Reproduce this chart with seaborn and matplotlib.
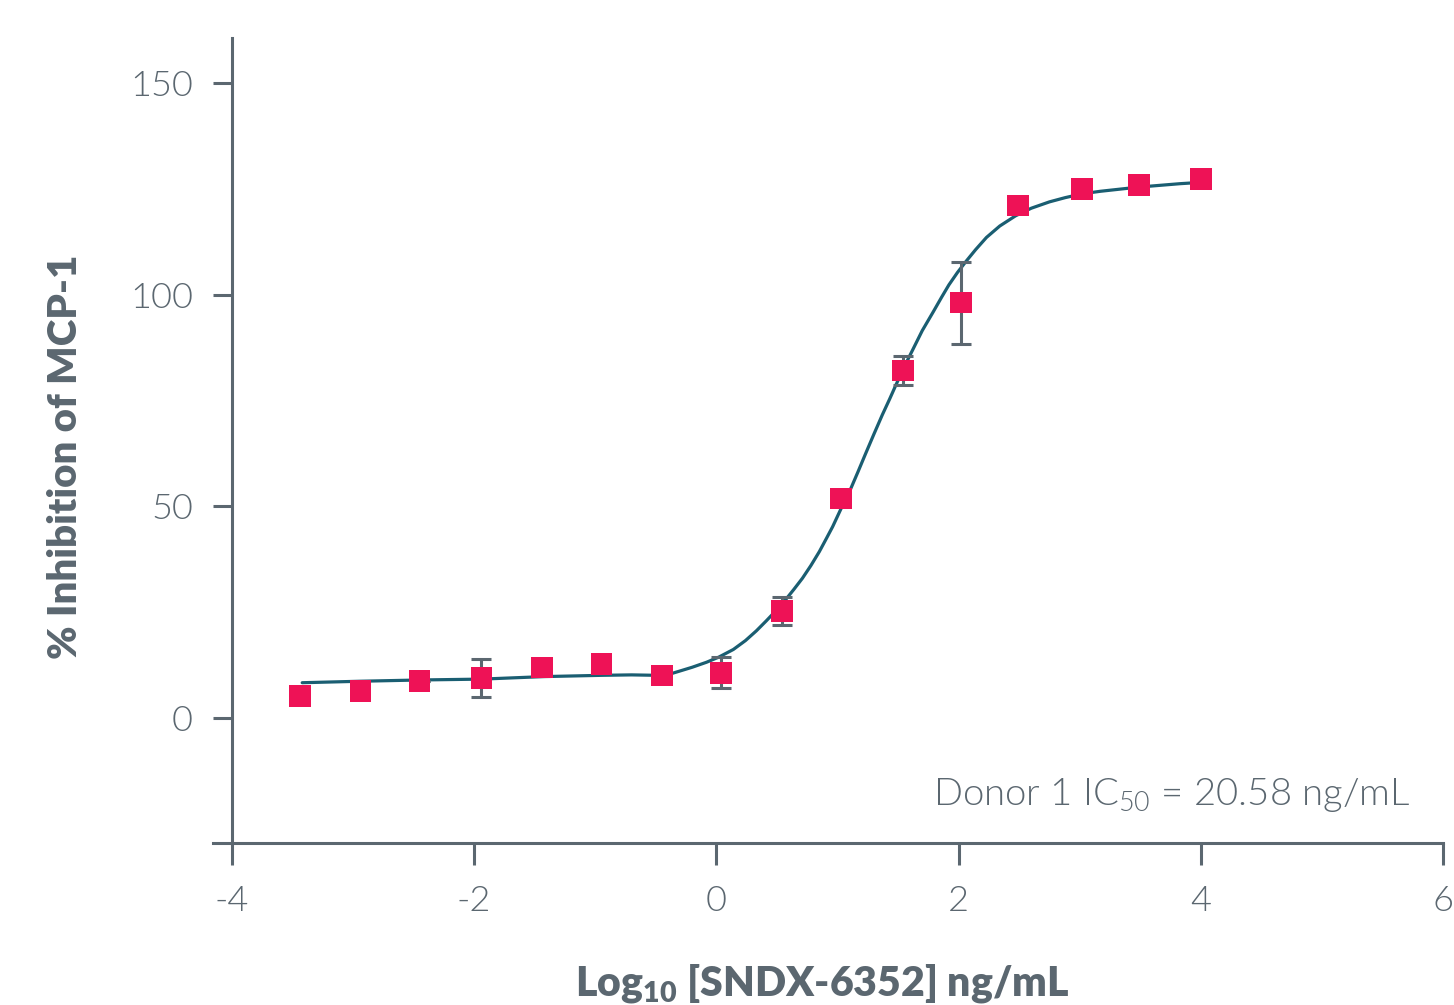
import matplotlib
matplotlib.use("Agg")
import matplotlib.pyplot as plt
import seaborn as sns
import pandas as pd

# ---- data ----
log_conc = [-3.44, -2.94, -2.45, -1.94, -1.44, -0.95, -0.45, 0.04, 0.54, 1.03, 1.54, 2.02, 2.49, 3.02, 3.49, 4.00]
inhibition = [5.2, 6.4, 8.7, 9.5, 11.9, 12.8, 10.0, 10.7, 25.3, 51.8, 82.1, 98.1, 121.1, 124.9, 125.9, 127.3]
err = [0, 0, 0, 4.5, 0, 0, 0, 3.7, 3.4, 0, 3.5, 9.7, 0, 0, 0, 0]

curve_x = [-3.42, -2.94, -2.44, -1.94, -1.42, -0.94, -0.70, -0.50, -0.36, -0.20, -0.08, 0.02, 0.14,
           0.24, 0.33, 0.41, 0.49, 0.57, 0.64, 0.71, 0.78, 0.85, 0.91, 0.96, 1.035, 1.11, 1.17,
           1.23, 1.30, 1.37, 1.43, 1.48, 1.55, 1.62, 1.70, 1.79, 1.86, 1.92, 1.99, 2.06, 2.14,
           2.23, 2.34, 2.47, 2.60, 2.75, 2.88, 3.02, 3.17, 3.33, 3.49, 3.66, 3.83, 4.00]
curve_y = [8.35, 8.7, 9.0, 9.2, 9.8, 10.1, 10.2, 10.1, 10.6, 12.0, 13.2, 14.4, 16.2,
           18.3, 20.6, 22.9, 25.3, 27.9, 30.4, 33.0, 36.0, 39.3, 42.5, 45.2, 49.8, 54.2, 58.2,
           62.3, 67.0, 71.6, 75.3, 78.5, 82.9, 86.9, 91.5, 95.9, 99.4, 102.3, 105.2, 107.8, 110.6,
           113.5, 116.2, 118.6, 120.4, 121.9, 122.9, 123.8, 124.4, 124.9, 125.4, 125.8, 126.2, 126.5]

xticks = [-4, -2, 0, 2, 4, 6]
yticks = [0, 50, 100, 150]
xlabel = "Log$_{\\mathregular{10}}$ [SNDX-6352] ng/mL"
ylabel = "% Inhibition of MCP-1"
note = "Donor 1 IC$_{\\mathregular{50}}$ = 20.58 ng/mL"

# ---- style ----
sns.set_style("white")
plt.rcParams["font.family"] = ["Lato", "DejaVu Sans"]
plt.rcParams["mathtext.fontset"] = "custom"
plt.rcParams["mathtext.rm"] = "Lato"
plt.rcParams["axes.unicode_minus"] = False

GRAY = "#5B6770"
TEAL = "#1A5E72"
PINK = "#EE1256"
LIGHT = 300

W, H = 1454, 1005
fig = plt.figure(figsize=(W / 100, H / 100), dpi=100)
ax = fig.add_axes([212.6 / W, 1 - 843 / H, (1443 - 212.6) / W, (843 - 38) / H])

pts = pd.DataFrame({"x": log_conc, "y": inhibition})
crv = pd.DataFrame({"x": curve_x, "y": curve_y})

sns.lineplot(data=crv, x="x", y="y", sort=False, estimator=None, color=TEAL, lw=2.3, ax=ax, zorder=2)
ax.errorbar(log_conc, inhibition, yerr=err, fmt="none", ecolor=GRAY, elinewidth=2.2,
            capsize=7, capthick=2.2, zorder=3)
sns.scatterplot(data=pts, x="x", y="y", marker="s", s=240, color=PINK, edgecolor="none",
                linewidth=0, ax=ax, zorder=4)

ax.set_xlim(-4.16, 6.0)
ax.set_ylim(-29.5, 160.6)
ax.set_xticks(xticks)
ax.set_yticks(yticks)
ax.set_xticklabels([str(t) for t in xticks])
ax.set_yticklabels([str(t) for t in yticks])

for s in ["top", "right"]:
    ax.spines[s].set_visible(False)
ax.spines["left"].set_position(("data", -4))
for s in ["left", "bottom"]:
    ax.spines[s].set_color(GRAY)
    ax.spines[s].set_linewidth(2.2)

ax.tick_params(axis="x", direction="out", length=16, width=2.2, color=GRAY,
               labelcolor=GRAY, labelsize=26, pad=14, bottom=True)
ax.tick_params(axis="y", direction="out", length=14, width=2.2, color=GRAY,
               labelcolor=GRAY, labelsize=26, pad=14, left=True)
for lab in ax.get_xticklabels() + ax.get_yticklabels():
    lab.set_fontweight(LIGHT)
ax.set_xlabel("")
ax.set_ylabel("")

fig.text(822 / W, 1 - 995 / H, xlabel, ha="center", va="baseline", fontsize=29.5,
         fontweight="heavy", color=GRAY)
fig.text(66 / W, 1 - 457 / H, ylabel, ha="center", va="center", rotation=90,
         fontsize=29, fontweight="heavy", color=GRAY)
ax.text(5.73, -20.5, note, ha="right", va="baseline", fontsize=27.5, fontweight=LIGHT,
        color=GRAY)

fig.savefig("out.png", dpi=100)
